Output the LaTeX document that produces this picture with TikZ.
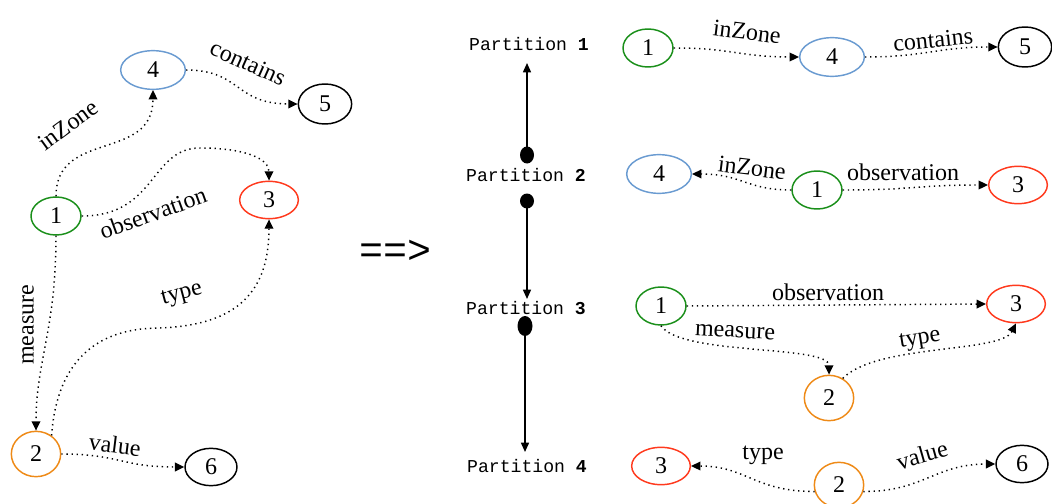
\documentclass[tikz,border=0pt]{standalone}
\usepackage{fontspec}
\setmainfont{Liberation Serif}
\setmonofont{Liberation Mono}
\usetikzlibrary{arrows.meta,shapes.geometric}
\definecolor{Green}{HTML}{1A8F1A}
\definecolor{Blue}{HTML}{6A9BD1}
\definecolor{Red}{HTML}{FF3A1E}
\definecolor{Orange}{HTML}{EE8A17}
\tikzset{
  vert/.style={ellipse,draw,line width=1.1pt,inner sep=0pt,font=\fontsize{18}{20}\selectfont},
  v1/.style={vert,draw=Green,minimum width=37.5pt,minimum height=28.5pt},
  v2/.style={vert,draw=Orange,minimum width=37pt,minimum height=34pt},
  v3/.style={vert,draw=Red,minimum width=44pt,minimum height=28pt},
  v4/.style={vert,draw=Blue,minimum width=48.5pt,minimum height=29pt},
  v5/.style={vert,draw=black,minimum width=40pt,minimum height=30pt},
  v6/.style={vert,draw=black,minimum width=39pt,minimum height=28pt},
  rel/.style={line width=1.1pt,dash pattern=on 1pt off 2.8pt,-{Triangle[length=7pt,width=6.5pt]}},
  lbl/.style={font=\fontsize{18}{20}\selectfont,inner sep=1pt},
  part/.style={font=\ttfamily\fontsize{13.6}{15}\selectfont,inner sep=0pt},
  seq/.style={line width=1.1pt,-{Triangle[length=7pt,width=6pt]}},
  blob/.style={ellipse,fill,inner sep=0pt}
}
\begin{document}
\begin{tikzpicture}[x=0.75pt,y=-0.75pt]
  \useasboundingbox (0,0) rectangle (1052,503);
  % whole graph
  \node[v4] (a4) at (153,70) {4};
  \node[v5] (a5) at (325,104) {5};
  \node[v1] (a1) at (56,216) {1};
  \node[v3] (a3) at (269,200) {3};
  \node[v2] (a2) at (36,454) {2};
  \node[v6] (a6) at (211,467) {6};
  \draw[rel] (a1.north) .. controls +(0,-67) and +(0,72) .. (a4.south);
  \draw[rel] (a4.east) .. controls +(55,0) and +(-63,0) .. (a5.west);
  \draw[rel] (a1.east) .. controls +(75,0) and +(-50,0) .. (200,148)
    .. controls +(45,0) and +(0,-22) .. (a3.north);
  \draw[rel] (a1.south) .. controls +(0,95) and +(0,-70) .. (a2.north);
  \draw[rel] (a2.50) .. controls +(7,-95) and +(-40,0) .. (160,328)
    .. controls +(80,-3) and +(0,70) .. (a3.south);
  \draw[rel] (a2.east) .. controls +(58,0) and +(-63,0) .. (a6.west);
  \node[lbl,rotate=36] (la14) at (68,125) {inZone};
  \node[lbl,rotate=-24] (la45) at (248,63) {contains};
  \node[lbl,rotate=20] (la13) at (153,213) {observation};
  \node[lbl,rotate=90] (la12) at (28,325) {measure};
  \node[lbl,rotate=15] (la23) at (182,295) {type};
  \node[lbl,rotate=-7] (la26) at (115,445) {value};
  \node[font=\ttfamily\fontsize{30}{32}\selectfont,inner sep=0pt] (into) at (396,252) {==>};
  % partitions
  \node[part] (p1) at (529,44) {Partition \textbf{1}};
  \node[part] (p2) at (526,175) {Partition \textbf{2}};
  \node[part] (p3) at (526,308) {Partition \textbf{3}};
  \node[part] (p4) at (527,466) {Partition \textbf{4}};
  \node[blob,minimum width=10.5pt,minimum height=12.75pt] (dot1) at (527,155) {};
  \node[blob,minimum width=10.5pt,minimum height=11.25pt] (dot2) at (527,201) {};
  \node[blob,minimum width=11.25pt,minimum height=15pt] (dot3) at (525,326) {};
  \coordinate (t1) at (527,63);
  \coordinate (t3) at (527,299);
  \coordinate (t4) at (525,452);
  \draw[seq] (dot1.center) -- (t1);
  \draw[seq] (dot2.center) -- (t3);
  \draw[seq] (dot3.center) -- (t4);
  % partition 1
  \node[v1] (b1) at (648,48) {1};
  \node[v4] (b4) at (832,57) {4};
  \node[v5] (b5) at (1025,47) {5};
  \draw[rel] (b1.east) .. controls +(60,0) and +(-60,0) .. (b4.west);
  \draw[rel] (b4.east) .. controls +(60,0) and +(-60,0) .. (b5.west);
  \node[lbl,rotate=-7] (lb14) at (747,32) {inZone};
  \node[lbl,rotate=6] (lb45) at (933,40) {contains};
  % partition 2
  \node[v4] (c4) at (659,174) {4};
  \node[v1] (c1) at (817,190) {1};
  \node[v3] (c3) at (1018,185) {3};
  \draw[rel] (c1.west) .. controls +(-45,0) and +(50,0) .. (c4.east);
  \draw[rel] (c1.east) .. controls +(70,0) and +(-70,0) .. (c3.west);
  \node[lbl,rotate=-7] (lc14) at (752,168) {inZone};
  \node[lbl] (lc13) at (903,172) {observation};
  % partition 3
  \node[v1] (d1) at (661,306) {1};
  \node[v3] (d3) at (1016,304) {3};
  \node[v2] (d2) at (829,398) {2};
  \draw[rel] (d1.east) -- (d3.west);
  \draw[rel] (d1.south) .. controls +(20,30) and +(0,-30) .. (d2.north);
  \draw[rel] (d2.55) .. controls +(35,-35) and +(-15,30) .. (d3.south);
  \node[lbl] (ld13) at (828,292) {observation};
  \node[lbl,rotate=-3] (ld12) at (735,332) {measure};
  \node[lbl,rotate=9] (ld23) at (920,340) {type};
  % partition 4
  \node[v3] (e3) at (661,466) {3};
  \node[v2] (e2) at (839,485) {2};
  \node[v6] (e6) at (1022,464) {6};
  \draw[rel] (e2.195) .. controls +(-60,0) and +(55,0) .. (e3.east);
  \draw[rel] (e2.-15) .. controls +(60,0) and +(-60,0) .. (e6.west);
  \node[lbl] (le23) at (763,455) {type};
  \node[lbl,rotate=16] (le26) at (922,455) {value};
\end{tikzpicture}
\end{document}
